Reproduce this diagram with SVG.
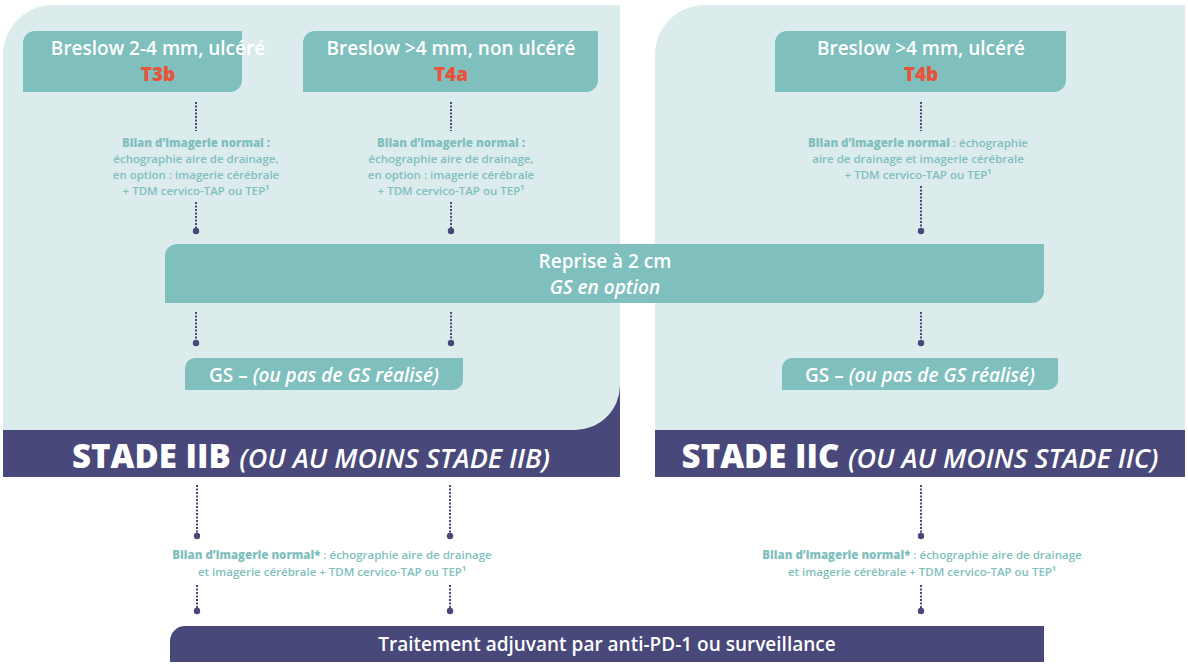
<svg xmlns="http://www.w3.org/2000/svg" width="1188" height="665" viewBox="0 0 1188 665">
<style>
.lt{fill:#dcecec}.dk{fill:#48487a}.tl{fill:#7fbfbd}
.h{font-family:"Open Sans",sans-serif;font-weight:600;font-size:19px;fill:#fff;text-anchor:middle}
.r{font-family:"Open Sans",sans-serif;font-weight:800;font-size:19px;fill:#e8533a;text-anchor:middle}
.s{font-family:"Open Sans",sans-serif;font-weight:600;font-size:11.5px;fill:#7fbfbd;text-anchor:middle}
.b{font-weight:800}
.st{font-family:"Open Sans",sans-serif;font-weight:800;font-size:33px;fill:#fff;text-anchor:middle}
.it{font-style:italic;font-weight:600;font-size:27px}
.dl{stroke:#48487a;stroke-width:2;stroke-dasharray:2 1.5}
</style>
<rect width="1188" height="665" fill="#fff"/>
<g id="panel-iib">
<rect class="dk" x="3" y="335" width="617" height="142"/>
<path class="lt" d="M3 55 A50 50 0 0 1 53 5 H620 V385 A45 45 0 0 1 575 430 H3 Z"/>
<text class="st" x="311" y="468">STADE IIB <tspan class="it">(OU AU MOINS STADE IIB)</tspan></text>
</g>
<g id="panel-iic">
<path class="lt" d="M655 55 A50 50 0 0 1 705 5 H1185 V430 H655 Z"/>
<rect class="dk" x="655" y="430" width="530" height="47"/>
<text class="st" x="920" y="468">STADE IIC <tspan class="it">(OU AU MOINS STADE IIC)</tspan></text>
</g>
<g id="t3b"><path class="tl" d="M35 31 H242 V80 A12 12 0 0 1 230 92 H23 V43 A12 12 0 0 1 35 31Z"/>
<text class="h" x="158" y="55">Breslow 2-4 mm, ulcéré</text><text class="r" x="158" y="81">T3b</text></g>
<g id="t4a"><path class="tl" d="M315 31 H598 V80 A12 12 0 0 1 586 92 H303 V43 A12 12 0 0 1 315 31Z"/>
<text class="h" x="451" y="55">Breslow &gt;4 mm, non ulcéré</text><text class="r" x="451" y="81">T4a</text></g>
<g id="t4b"><path class="tl" d="M787 31 H1066 V80 A12 12 0 0 1 1054 92 H775 V43 A12 12 0 0 1 787 31Z"/>
<text class="h" x="921" y="55">Breslow &gt;4 mm, ulcéré</text><text class="r" x="921" y="81">T4b</text></g>
<g id="bilan1" class="s"><text x="196" y="147"><tspan class="b">Bilan d’imagerie normal :</tspan></text><text x="196" y="163">échographie aire de drainage,</text><text x="196" y="179">en option : imagerie cérébrale</text><text x="196" y="195">+ TDM cervico-TAP ou TEP¹</text></g>
<g id="bilan2" class="s"><text x="451" y="147"><tspan class="b">Bilan d’imagerie normal :</tspan></text><text x="451" y="163">échographie aire de drainage,</text><text x="451" y="179">en option : imagerie cérébrale</text><text x="451" y="195">+ TDM cervico-TAP ou TEP¹</text></g>
<g id="bilan3" class="s"><text x="918" y="147"><tspan class="b">Bilan d’imagerie normal</tspan> : échographie</text><text x="918" y="163">aire de drainage et imagerie cérébrale</text><text x="918" y="179">+ TDM cervico-TAP ou TEP¹</text></g>
<g id="reprise"><path class="tl" d="M177 244 H1044 V291 A12 12 0 0 1 1032 303 H165 V256 A12 12 0 0 1 177 244Z"/>
<text class="h" x="605" y="268">Reprise à 2 cm</text><text class="h" x="605" y="294" font-style="italic">GS en option</text></g>
<g id="gs1"><path class="tl" d="M195 358 H463 V380 A10 10 0 0 1 453 390 H185 V368 A10 10 0 0 1 195 358Z"/>
<text class="h" x="324" y="382" font-size="18">GS – <tspan font-style="italic">(ou pas de GS réalisé)</tspan></text></g>
<g id="gs2"><path class="tl" d="M792 358 H1058 V380 A10 10 0 0 1 1048 390 H782 V368 A10 10 0 0 1 792 358Z"/>
<text class="h" x="920" y="382" font-size="18">GS – <tspan font-style="italic">(ou pas de GS réalisé)</tspan></text></g>
<g id="bilan4" class="s"><text x="332" y="559"><tspan class="b">Bilan d’imagerie normal*</tspan> : échographie aire de drainage</text><text x="332" y="576">et imagerie cérébrale + TDM cervico-TAP ou TEP¹</text></g>
<g id="bilan5" class="s"><text x="922" y="559"><tspan class="b">Bilan d’imagerie normal*</tspan> : échographie aire de drainage</text><text x="922" y="576">et imagerie cérébrale + TDM cervico-TAP ou TEP¹</text></g>
<g id="traitement"><path class="dk" d="M185 626 H1044 V662 H170 V641 A15 15 0 0 1 185 626Z"/>
<text class="h" x="607" y="651">Traitement adjuvant par anti-PD-1 ou surveillance</text></g>
<g id="connectors" fill="#48487a">
<path class="dl" d="M196 102V131M196 202V230M451 102V131M451 202V230M921 102V131M921 186V230M196 312V340M451 312V340M921 312V340M197 485V533M450 485V533M921 485V533M197 585V608M450 585V608M921 585V608"/>
<circle cx="196" cy="231" r="3.2"/><circle cx="451" cy="231" r="3.2"/><circle cx="921" cy="231" r="3.2"/>
<circle cx="196" cy="343" r="3.2"/><circle cx="451" cy="343" r="3.2"/><circle cx="921" cy="343" r="3.2"/>
<circle cx="197" cy="536" r="3.2"/><circle cx="450" cy="536" r="3.2"/><circle cx="921" cy="536" r="3.2"/>
<circle cx="197" cy="611" r="3.2"/><circle cx="450" cy="611" r="3.2"/><circle cx="921" cy="611" r="3.2"/>
</g>
</svg>
